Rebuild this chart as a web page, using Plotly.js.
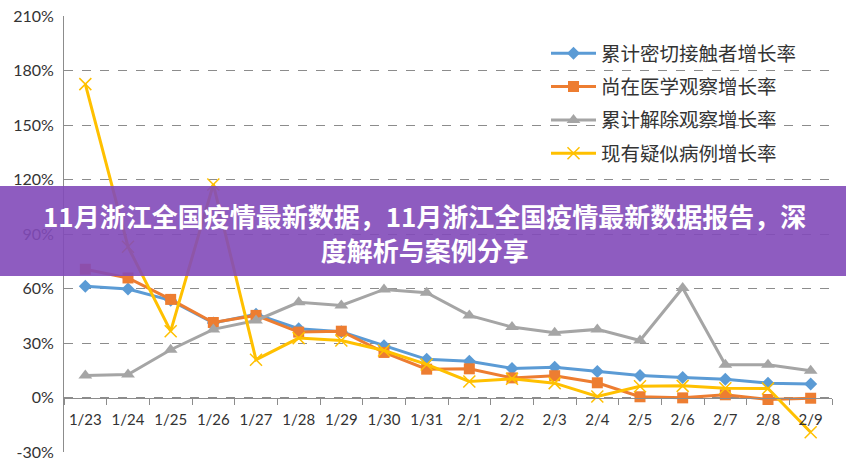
<!DOCTYPE html>
<html>
<head>
<meta charset="utf-8">
<script src="https://cdn.plot.ly/plotly-3.0.1.min.js"></script>
<style>html,body{margin:0;padding:0;background:#fff;}#chart{width:846px;height:463px;}</style>
</head>
<body>
<div id="chart"></div>
<script>
const categories = ["1/23","1/24","1/25","1/26","1/27","1/28","1/29","1/30","1/31","2/1","2/2","2/3","2/4","2/5","2/6","2/7","2/8","2/9"];
const seriesNames = ["累计密切接触者增长率","尚在医学观察增长率","累计解除观察增长率","现有疑似病例增长率"];
const closeContacts = [61.2, 59.7, 53.5, 41.0, 45.8, 37.9, 36.2, 28.5, 21.0, 20.0, 16.0, 16.7, 14.3, 12.1, 11.0, 10.1, 7.9, 7.5];
const underObservation = [70.6, 65.8, 54.0, 41.3, 45.2, 36.0, 36.5, 24.8, 15.6, 15.8, 10.8, 12.0, 8.1, 0.4, -0.2, 1.5, -1.1, -0.4];
const released = [12.1, 12.7, 26.3, 37.5, 42.4, 52.4, 50.7, 59.5, 57.7, 45.2, 38.8, 35.7, 37.5, 31.4, 60.3, 18.0, 18.0, 14.7];
const suspected = [172.5, 83.0, 36.5, 117.3, 20.8, 32.7, 31.4, 25.9, 18.2, 8.8, 10.3, 7.9, 0.6, 6.2, 6.4, 5.1, 5.0, -19.1];
const yTicks = [-30, 0, 30, 60, 90, 120, 150, 180, 210];
const bannerLines = ["11月浙江全国疫情最新数据，11月浙江全国疫情最新数据报告，深", "度解析与案例分享"];

const styles = [
  {color:"#5b9bd5", symbol:"diamond", size:10, lw:0},
  {color:"#ed7d31", symbol:"square", size:11, lw:0},
  {color:"#a5a5a5", symbol:"triangle-up", size:12, lw:0},
  {color:"#ffc000", symbol:"x-thin", size:12, lw:1.5}
];
const allSeries = [closeContacts, underObservation, released, suspected];

const traces = allSeries.map((vals, i) => ({
  type: "scatter",
  mode: "lines+markers",
  x: categories,
  y: vals,
  name: seriesNames[i],
  legendgroup: "g" + i,
  line: {color: styles[i].color, width: 3},
  marker: {color: styles[i].color, symbol: styles[i].symbol, size: styles[i].size,
           line: {color: styles[i].color, width: styles[i].lw}},
  cliponaxis: false
}));

const W = 846, H = 463, L = 64, R = 14, T = 16, B = 11;
const pw = W - L - R, ph = H - T - B;
const px = v => (v - L) / pw;
const py = v => 1 - (v - T) / ph;

const layout = {
  width: W, height: H,
  margin: {l: L, r: R, t: T, b: B},
  paper_bgcolor: "#ffffff",
  plot_bgcolor: "#ffffff",
  font: {family: "Lato, 'Noto Sans CJK SC', sans-serif", color: "#333"},
  showlegend: true,
  legend: {
    x: px(546), y: py(34), xanchor: "left", yanchor: "top",
    bgcolor: "rgba(0,0,0,0)",
    font: {family: "'Noto Sans CJK SC', sans-serif", size: 19.5, color: "#333"},
    traceorder: "grouped",
    tracegroupgap: 5,
    itemwidth: 45
  },
  xaxis: {
    type: "category",
    range: [-0.5, categories.length - 0.5],
    anchor: "free",
    position: (0 - yTicks[0]) / (yTicks[yTicks.length-1] - yTicks[0]),
    showline: true, linecolor: "#8c8c8c", linewidth: 1,
    ticks: "outside", tickson: "boundaries", ticklen: 6, tickcolor: "#8c8c8c",
    tickangle: 0,
    showgrid: false, zeroline: false,
    tickfont: {family: "Lato, sans-serif", size: 15, color: "#333"},
    ticklabelstandoff: 8
  },
  yaxis: {
    range: [yTicks[0], yTicks[yTicks.length-1]],
    tickvals: yTicks,
    ticktext: yTicks.map(v => v + "%"),
    showline: true, linecolor: "#8c8c8c", linewidth: 1,
    showgrid: true, gridcolor: "#8c8c8c", griddash: "dash", gridwidth: 1,
    zeroline: false,
    ticks: "",
    tickfont: {family: "Lato, sans-serif", size: 16, color: "#333"},
    ticklabelstandoff: 6
  },
  shapes: [{
    type: "rect", layer: "above", xref: "paper", yref: "paper",
    x0: px(0), x1: px(W), y0: py(276), y1: py(186),
    fillcolor: "rgba(130,74,185,0.9)", line: {width: 0}
  }],
  annotations: [{
    xref: "paper", yref: "paper", x: px(424), y: py(232), xanchor: "center", yanchor: "middle",
    text: bannerLines.join("<br>"), showarrow: false, align: "center",
    font: {family: "'Noto Sans CJK SC', sans-serif", size: 26, color: "#ffffff", weight: "bold"}
  }]
};

Plotly.newPlot("chart", traces, layout, {displayModeBar: false, responsive: false});
</script>
</body>
</html>
